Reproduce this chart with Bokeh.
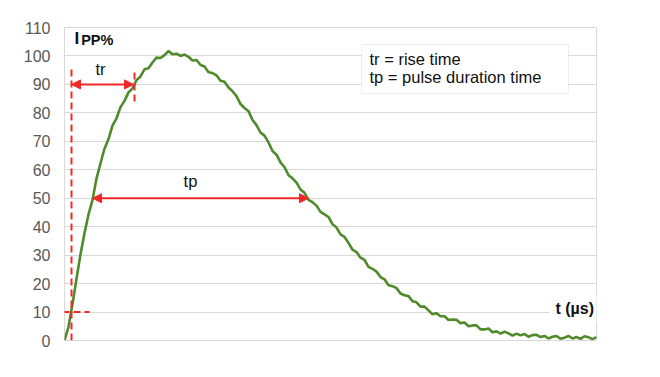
from bokeh.plotting import figure
from bokeh.models import Range1d, Arrow, NormalHead, Label, BoxAnnotation, FixedTicker
from bokeh.embed import file_html
from bokeh.resources import INLINE

# time in µs (arbitrary scale) and current in % of Ipp
t_us = [
    0.0, 0.4, 0.8, 1.2, 1.6, 2.0, 2.4, 2.8, 3.2, 3.6, 4.0, 4.4, 4.8, 5.2, 5.6, 6.0,
    6.4, 6.8, 7.2, 7.6, 8.0, 8.4, 8.8, 9.2, 9.6, 10.0, 10.4, 10.8, 11.2, 11.6, 12.0,
    12.4, 12.8, 13.2, 13.6, 14.0, 14.4, 14.8, 15.2, 15.6, 16.0, 16.4, 16.8, 17.2,
    17.6, 18.0, 18.4, 18.8, 19.2, 19.6, 20.0, 20.4, 20.8, 21.2, 21.6, 22.0, 22.4,
    22.8, 23.2, 23.6, 24.0, 24.4, 24.8, 25.2, 25.6, 26.0, 26.4, 26.8, 27.2, 27.6,
    28.0, 28.4, 28.8, 29.2, 29.6, 30.0, 30.4, 30.8, 31.2, 31.6, 32.0, 32.4, 32.8,
    33.2, 33.6, 34.0, 34.4, 34.8, 35.2, 35.6, 36.0, 36.4, 36.8, 37.2, 37.6, 38.0,
    38.4, 38.8, 39.2, 39.6, 40.0, 40.4, 40.8, 41.2, 41.6, 42.0, 42.4, 42.8, 43.2,
    43.6, 44.0, 44.4, 44.8, 45.2, 45.6, 46.0, 46.4, 46.8, 47.2, 47.6, 48.0, 48.4,
    48.8, 49.2, 49.6, 50.0, 50.4, 50.8, 51.2, 51.6, 52.0, 52.4, 52.8, 53.2,
]
ipp_pct = [
    0.0, 4.8, 12.8, 21.7, 30.3, 37.8, 44.3, 49.4, 56.9, 62.3, 67.4, 70.8, 75.5, 78.1, 82.0, 84.2,
    87.2, 88.6, 91.5, 92.8, 95.3, 95.7, 97.7, 99.4, 99.3, 100.3, 101.7, 100.6, 100.8, 100.0, 100.5,
    99.7, 98.4, 98.6, 96.8, 96.3, 94.3, 94.0, 93.2, 91.3, 90.9, 88.9, 87.6, 85.9,
    83.1, 81.7, 80.6, 77.5, 75.7, 73.1, 72.0, 69.6, 66.6, 65.3, 62.6, 60.9, 58.1,
    57.0, 55.5, 53.1, 51.9, 49.4, 48.6, 47.4, 45.2, 44.3, 43.4, 40.9, 39.7, 37.3,
    36.4, 34.3, 31.9, 31.1, 29.1, 28.3, 25.9, 25.2, 24.2, 22.3, 21.5, 19.4, 19.1,
    18.4, 16.5, 15.9, 15.6, 13.8, 13.4, 11.9, 11.9, 10.6, 9.2, 9.6, 8.5, 8.5,
    7.2, 7.4, 7.3, 6.1, 6.3, 5.0, 5.3, 5.3, 3.9, 3.9, 4.2, 2.9, 3.2,
    2.4, 3.1, 2.5, 1.7, 2.4, 1.8, 2.3, 1.3, 1.9, 2.0, 1.2, 1.6, 0.7,
    1.3, 1.6, 0.6, 1.0, 1.6, 0.7, 1.2, 0.6, 1.5, 1.1, 0.5, 1.2,
]
y_ticks = [0, 10, 20, 30, 40, 50, 60, 70, 80, 90, 100, 110]

# annotation anchor values
t10, t90, t50a, t50b = 0.7, 7.0, 2.8, 24.4
legend_lines = ["tr = rise time", "tp = pulse duration time"]

FONT = "Liberation Sans"
RED = "#f02828"
GRID = "#d9d9d9"
TXT = "#111111"

p = figure(width=660, height=377, output_backend="svg", toolbar_location=None,
           x_range=Range1d(0, 53.2), y_range=Range1d(0, 110),
           min_border_left=64, min_border_right=64, min_border_top=27, min_border_bottom=37)
p.background_fill_color = "white"
p.border_fill_color = "white"
p.outline_line_color = GRID
p.outline_line_width = 1

p.xaxis.visible = False
p.xgrid.visible = False
p.ygrid.grid_line_color = GRID
p.ygrid.grid_line_width = 1
p.yaxis.ticker = FixedTicker(ticks=y_ticks)
p.yaxis.axis_line_color = None
p.yaxis.major_tick_line_color = None
p.yaxis.minor_tick_line_color = None
p.yaxis.major_tick_out = 0
p.yaxis.major_label_standoff = 14
p.yaxis.major_label_text_font = FONT
p.yaxis.major_label_text_font_size = "16px"
p.yaxis.major_label_text_color = "#595959"

# waveform
p.line(t_us, ipp_pct, line_color="#4f8a2b", line_width=2.6)

# dashed markers
p.add_layout(Arrow(start=None, end=None, x_start=t10, y_start=0, x_end=t10, y_end=96,
                   line_color=RED, line_width=2, line_dash="7 4"))
p.add_layout(Arrow(start=None, end=None, x_start=-1.3, y_start=10, x_end=2.5, y_end=10,
                   line_color=RED, line_width=2, line_dash="7 4"))
p.add_layout(Arrow(start=None, end=None, x_start=t90, y_start=84, x_end=t90, y_end=95.5,
                   line_color=RED, line_width=2, line_dash="7 4"))

# tr / tp arrows
for xs, xe, yv in [(t10, t90 - 0.1, 90), (t50a, t50b, 50)]:
    p.add_layout(Arrow(
        start=NormalHead(size=9, fill_color=RED, line_color=RED),
        end=NormalHead(size=9, fill_color=RED, line_color=RED),
        x_start=xs, y_start=yv, x_end=xe, y_end=yv, line_color=RED, line_width=2))

p.add_layout(Label(x=3.6, y=92.2, text="tr", text_font=FONT, text_font_size="16.5px",
                   text_align="center", text_color=TXT))
p.add_layout(Label(x=12.6, y=52.8, text="tp", text_font=FONT, text_font_size="16.5px",
                   text_align="center", text_color=TXT))

# Ipp% title
p.add_layout(Label(x=1.0, y=102.7, text="I", text_font=FONT, text_font_size="17px",
                   text_font_style="bold", text_color=TXT))
p.add_layout(Label(x=1.67, y=102.7, text="PP%", text_font=FONT, text_font_size="14.5px",
                   text_font_style="bold", text_color=TXT))

# t (µs) label with white background
p.add_layout(Label(x=48.5, y=6.0, text="t (µs)", text_font=FONT, text_font_size="16px",
                   text_font_style="bold", text_color=TXT,
                   background_fill_color="white", padding=6))

# legend box
p.add_layout(BoxAnnotation(left=29.7, right=50.4, bottom=86.8, top=104.0,
                           fill_color="white", fill_alpha=1.0,
                           line_color="#c8c8c8", line_width=1))
p.add_layout(Label(x=30.5, y=95.8, text=legend_lines[0], text_font=FONT,
                   text_font_size="16.5px", text_color=TXT))
p.add_layout(Label(x=30.5, y=89.5, text=legend_lines[1], text_font=FONT,
                   text_font_size="16.5px", text_color=TXT))

open("out.html", "w").write(file_html(p, INLINE))
